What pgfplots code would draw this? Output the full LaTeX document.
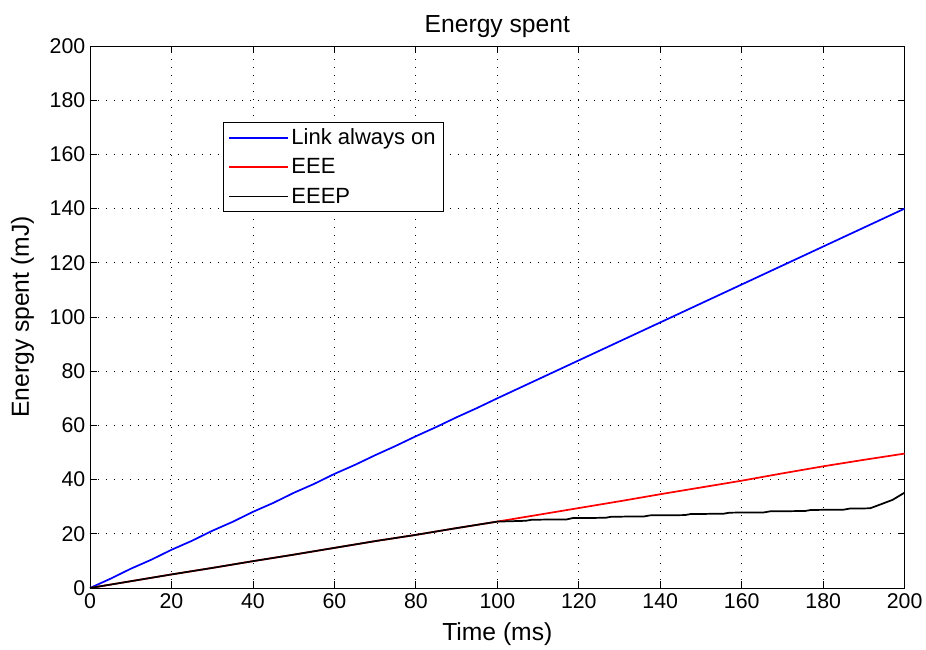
\documentclass[border=0pt]{standalone}
\usepackage{fontspec}
\setmainfont{Liberation Sans}
\usepackage{pgfplots}
\pgfplotsset{compat=1.18}

\begin{document}
\begin{tikzpicture}
\begin{axis}[
    at={(0,0)}, anchor=south west,
    scale only axis,
    width=611pt, height=406.5pt,
    xmin=0, xmax=200, ymin=0, ymax=200,
    xtick={0,20,...,200}, ytick={0,20,...,200},
    tick align=inside,
    major tick length=5pt,
    grid=major,
    major grid style={black, line width=0.6pt, dash pattern=on 0.6pt off 5.4pt},
    axis line style={black, line width=0.6pt},
    tick style={black, line width=0.6pt},
    /pgf/number format/assume math mode=true,
    tick label style={font=\fontsize{16}{18}\selectfont},
    xticklabel style={yshift=-1pt},
    xlabel={Time (ms)},
    ylabel={Energy spent (mJ)},
    xlabel style={font=\fontsize{18.5}{20}\selectfont, yshift=-3pt},
    ylabel style={font=\fontsize{18.5}{20}\selectfont, yshift=5pt},
    title={Energy spent},
    title style={font=\fontsize{18.5}{20}\selectfont, yshift=-3pt},
    legend style={at={(0.163,0.86)}, anchor=north west, draw=black,
        font=\fontsize{16.5}{18}\selectfont,
        row sep=5pt, inner xsep=4pt, inner ysep=3pt},
    legend cell align=left,
    legend image code/.code={\draw[#1, line width=1.3pt] (0pt,0pt) -- (44pt,0pt);},
]
\addplot[blue, line width=1.3pt] coordinates {
(0,0) (5,3.4) (10,7.1) (15,10.4) (20,14.1) (25,17.4) (30,21.1) (35,24.4)
(40,28.1) (45,31.4) (50,35.1) (55,38.4) (60,42.1) (65,45.4) (70,49)
(75,52.4) (80,56) (85,59.4) (90,63) (95,66.4) (100,70) (110,77) (120,84)
(130,91) (140,98) (150,105) (160,112) (170,119) (180,126) (190,133) (200,140)
};
\addlegendentry{Link always on}
\addplot[red, line width=1.3pt] coordinates {
(0,0) (10,2.5) (20,5) (30,7.4) (40,9.9) (50,12.3) (60,14.8) (70,17.3)
(80,19.6) (90,22.1) (100,24.5) (110,27) (120,29.5) (130,32) (140,34.6)
(150,37.1) (160,39.6) (170,42.3) (180,44.9) (190,47.3) (200,49.6)
};
\addlegendentry{EEE}
\addplot[black, line width=1.3pt] coordinates {
(0,0) (10,2.5) (20,5) (30,7.4) (40,9.9) (50,12.3) (60,14.8) (70,17.3)
(80,19.6) (90,22.1) (100,24.5) (107,24.8) (108.5,25.2) (117,25.3) (118.5,25.8)
(126.5,25.9) (128,26.3) (136,26.4) (137.5,26.8) (146,26.9) (147.5,27.3)
(155.5,27.4) (157,27.8) (165.5,27.9) (167,28.3) (175.5,28.4) (177,28.8)
(185,28.9) (186.5,29.3) (191.5,29.4) (194,30.8) (197,32.5) (200,35.2)
};
\addlegendentry{EEEP}
\end{axis}
\pgfresetboundingbox
\path[use as bounding box] (-67.5pt,-46.5pt) rectangle (627pt,441pt);
\end{tikzpicture}
\end{document}
